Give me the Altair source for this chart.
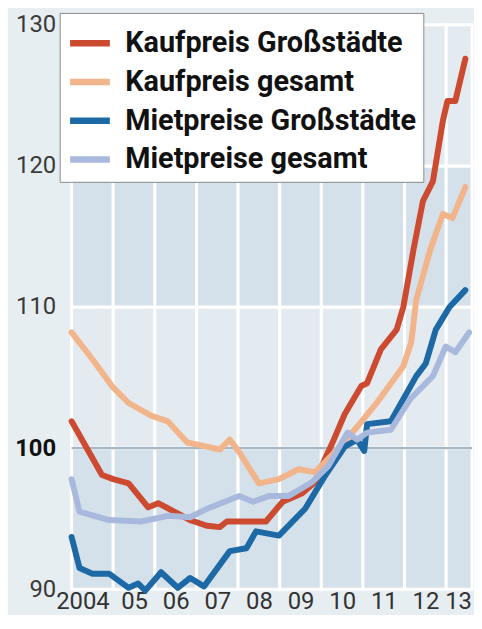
import altair as alt
import pandas as pd

# ---- data ----
series_names = ["Kaufpreis Großstädte", "Kaufpreis gesamt", "Mietpreise Großstädte", "Mietpreise gesamt"]
series_colors = ["#cc4a30", "#f2b48b", "#1c69a5", "#a9b9de"]

kg_t = [0, 0.73, 1.0, 1.37, 1.84, 2.08, 2.85, 3.25, 3.56, 3.73, 4.67, 5.07, 5.54, 5.85, 6.08, 6.3, 6.56,
        6.96, 7.10, 7.43, 7.81, 7.97, 8.21, 8.44, 8.68, 8.92, 9.03, 9.22, 9.46]
kg_v = [101.9, 98.1, 97.8, 97.5, 95.8, 96.1, 94.9, 94.5, 94.4, 94.8, 94.8, 96.2, 96.8, 97.6, 99.2, 100.6, 102.4,
        104.4, 104.6, 107.0, 108.4, 110.0, 114.0, 117.5, 118.9, 123.2, 124.6, 124.6, 127.6]

ka_t = [0, 0.5, 0.97, 1.37, 1.91, 2.31, 2.78, 3.25, 3.56, 3.80, 4.03, 4.50, 4.98, 5.45, 5.85, 6.32, 6.86,
        7.33, 7.97, 8.16, 8.28, 8.61, 8.92, 9.15, 9.46]
ka_v = [108.2, 106.3, 104.4, 103.2, 102.3, 101.9, 100.4, 100.1, 99.9, 100.6, 99.7, 97.5, 97.8, 98.5, 98.3, 99.7, 101.5,
        103.2, 105.8, 107.5, 110.5, 114.0, 116.6, 116.3, 118.5]

mg_t = [0, 0.19, 0.5, 0.9, 1.37, 1.6, 1.77, 2.15, 2.55, 2.85, 3.18, 3.8, 4.2, 4.43, 4.98, 5.61, 6.08, 6.56,
        6.86, 7.03, 7.10, 7.67, 8.28, 8.51, 8.75, 9.08, 9.46]
mg_v = [93.7, 91.5, 91.1, 91.1, 90.1, 90.4, 89.9, 91.2, 90.1, 90.8, 90.2, 92.7, 92.9, 94.1, 93.8, 95.7, 98.0, 100.1,
        100.6, 99.8, 101.7, 101.9, 105.1, 106.0, 108.4, 110.0, 111.2]

ma_t = [0, 0.19, 0.9, 1.67, 2.31, 2.85, 3.25, 4.03, 4.36, 4.74, 5.21, 5.78, 6.16, 6.63, 6.86, 7.1, 7.67,
        8.14, 8.68, 8.99, 9.22, 9.55]
ma_v = [97.8, 95.5, 94.9, 94.8, 95.2, 95.1, 95.7, 96.6, 96.2, 96.6, 96.6, 97.6, 98.7, 101.1, 100.6, 101.1, 101.3,
        103.5, 105.1, 107.2, 106.8, 108.2]

start_year = 2004
x_end = 2013.62
x_labels = ["2004", "05", "06", "07", "08", "09", "10", "11", "12", "13"]
y_ticks = [90, 100, 110, 120, 130]
bands = [(90, 100), (100, 110), (110, 120), (120, 130)]
band_colors = ["#d5e1ea", "#e4ebf0"]

# ---- tables ----
rows = []
for name, ts, vs in zip(series_names, [kg_t, ka_t, mg_t, ma_t], [kg_v, ka_v, mg_v, ma_v]):
    for t, v in zip(ts, vs):
        rows.append({"series": name, "year": start_year + t, "value": v})
lines_df = pd.DataFrame(rows)

cells = []
for i in range(len(x_labels)):
    y0 = start_year + i
    for j, (lo, hi) in enumerate(bands):
        cells.append({"x": y0, "x2": min(y0 + 1, x_end), "lo": lo, "hi": hi, "band": j % 2})
cells_df = pd.DataFrame(cells)

xscale = alt.Scale(domain=[start_year, x_end], nice=False, zero=False)
yscale = alt.Scale(domain=[90, 130], nice=False, zero=False)

label_expr = str(x_labels) + "[floor(datum.value) - 2004]"

xaxis = alt.Axis(values=[start_year + i + 0.5 for i in range(len(x_labels))], labelExpr=label_expr,
                 ticks=False, domain=False, grid=False, labelFontSize=24, labelFont="Roboto",
                 labelColor="#333333", labelPadding=0, title=None,
                 labelOffset=alt.ExprRef(expr="datum.value < 2005 ? -10 : (datum.value > 2013 ? -9 : 0)"))
yaxis = alt.Axis(values=y_ticks, ticks=False, domain=False, grid=False, labelFontSize=24,
                 labelFont="Roboto", labelPadding=16, title=None,
                 labelColor={"condition": {"test": "datum.value == 100", "value": "#111111"}, "value": "#3a3a3a"},
                 labelFontWeight={"condition": {"test": "datum.value == 100", "value": "bold"}, "value": "normal"})

bg = alt.Chart(cells_df).mark_rect(stroke="white", strokeWidth=3).encode(
    x=alt.X("x:Q", scale=xscale, axis=xaxis),
    x2="x2:Q",
    y=alt.Y("lo:Q", scale=yscale, axis=yaxis),
    y2="hi:Q",
    fill=alt.Fill("band:N", scale=alt.Scale(domain=[0, 1], range=band_colors), legend=None),
)

base_line = alt.Chart(pd.DataFrame({"v": [100]})).mark_rule(color="#a6b6c3", strokeWidth=2.5).encode(
    y=alt.Y("v:Q", scale=yscale),
)

lines = alt.Chart(lines_df).mark_line(strokeWidth=6, strokeJoin="round", strokeCap="round").encode(
    x=alt.X("year:Q", scale=xscale),
    y=alt.Y("value:Q", scale=yscale),
    color=alt.Color("series:N", sort=series_names,
                    scale=alt.Scale(domain=series_names, range=series_colors),
                    legend=alt.Legend(orient="none", legendX=-12, legendY=-12, title=None,
                                      fillColor="white", strokeColor="#8a8a8a", padding=7,
                                      symbolType="stroke", symbolStrokeWidth=6.5, symbolSize=1600,
                                      labelFontSize=29, labelFontWeight="bold", labelFont="Roboto",
                                      labelColor="#111111", labelOffset=12, rowPadding=-9,
                                      labelLimit=400)),
)

chart = alt.layer(bg, base_line, lines).properties(
    width=403, height=568,
    padding={"left": 6, "top": 2, "right": 0, "bottom": 0},
    background="#e7eef2",
).configure_view(stroke=None)

chart.save("out.html", embed_options={"renderer": "svg", "actions": False})
